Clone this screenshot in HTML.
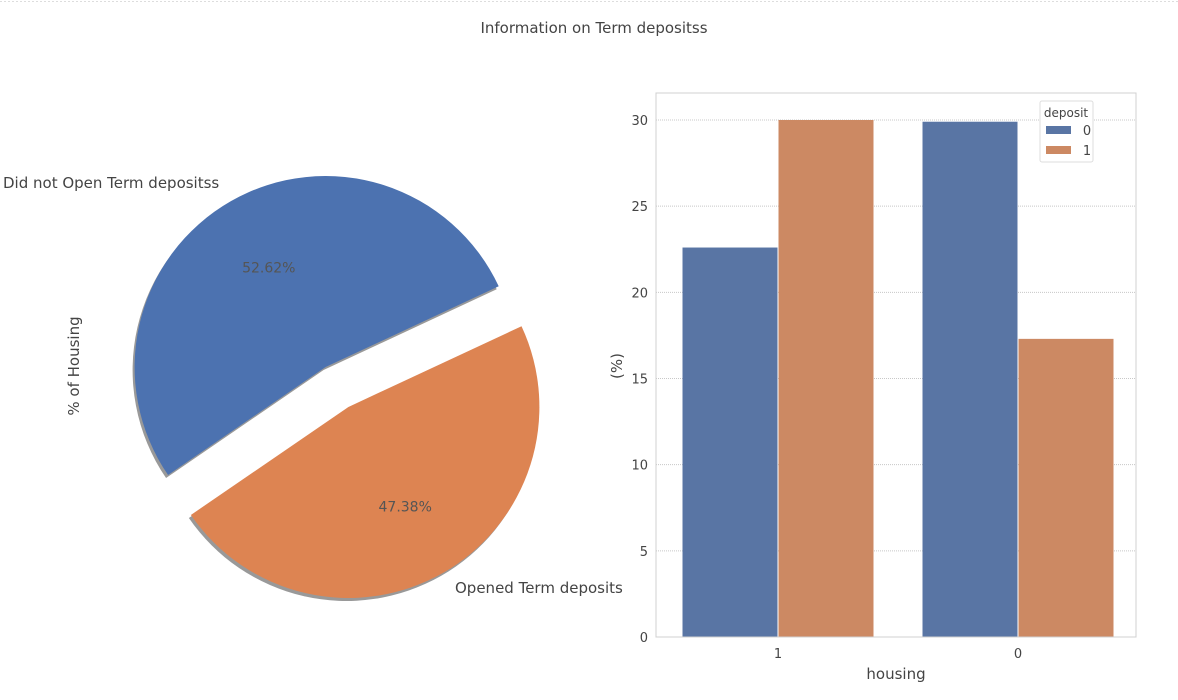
<!DOCTYPE html>
<html><head><meta charset="utf-8"><style>
body{margin:0;background:#fff;font-family:"Liberation Sans","DejaVu Sans",sans-serif}
svg text{font-family:"DejaVu Sans","Liberation Sans",sans-serif}
</style></head><body>
<svg id="c" width="1178" height="695" viewBox="0 0 1178 695" xmlns="http://www.w3.org/2000/svg">
<line x1="0" y1="1.5" x2="1178" y2="1.5" stroke="#ddd" stroke-dasharray="2,2"/>
<text x="594" y="33" text-anchor="middle" font-size="15" fill="#444">Information on Term depositss</text>
<g id="pie"></g>
<g id="bar"></g>
</svg>
<script>
const pieLabels=["Did not Open Term depositss","Opened Term deposits"];
const pieValues=[52.62,47.38];
const pieColors=["#4c72b0","#dd8452"];
const barCategories=["1","0"];
const barSeries=["0","1"];
const barValues0=[22.6,29.9];
const barValues1=[30.0,17.3];
const barColors=["#5975a4","#cc8963"];
const yTicks=[0,5,10,15,20,25,30];
const NS="http://www.w3.org/2000/svg";
function mk(t,a,p){const e=document.createElementNS(NS,t);for(const k in a)e.setAttribute(k,a[k]);p.appendChild(e);return e;}
// pie
const pie=document.getElementById('pie');
const cx=337,cy=387,r=191,ex=23,start=25;
let tot=pieValues.reduce((a,b)=>a+b,0),ang=start;
const labPos=[[3,188,'start'],[455,593,'start']];
pieValues.forEach((v,i)=>{
 const sweep=v/tot*360,a0=ang,a1=ang+sweep,mid=(a0+a1)/2*Math.PI/180;
 const ox=cx+ex*Math.cos(mid),oy=cy-ex*Math.sin(mid);
 const p0=[ox+r*Math.cos(a0*Math.PI/180),oy-r*Math.sin(a0*Math.PI/180)];
 const p1=[ox+r*Math.cos(a1*Math.PI/180),oy-r*Math.sin(a1*Math.PI/180)];
 const d=`M${ox},${oy}L${p0[0]},${p0[1]}A${r},${r} 0 ${sweep>180?1:0} 0 ${p1[0]},${p1[1]}Z`;
 const sh=mk('path',{d:d,fill:'#999',transform:'translate(-2,3)'},pie);
 
 
 const w=mk('path',{d:d,fill:pieColors[i]},pie);
 
 
 const t=mk('text',{x:ox+0.6*r*Math.cos(mid),y:oy-0.6*r*Math.sin(mid)+5,'text-anchor':'middle','font-size':14,fill:'#555'},pie);
 t.textContent=v.toFixed(2)+'%';
 
 
 const l=mk('text',{x:labPos[i][0],y:labPos[i][1],'text-anchor':labPos[i][2],'font-size':15,fill:'#444'},pie);
 l.textContent=pieLabels[i];
 
 
 ang=a1;
});
const yl=mk('text',{x:0,y:0,transform:'translate(79,366) rotate(-90)','text-anchor':'middle','font-size':15,fill:'#444'},pie);
yl.textContent='% of Housing';


// bar
const bar=document.getElementById('bar');
const L=656,R=1136,T=93,B=637,y0=637,y30=120;
const yS=v=>y0-(v/30)*(y0-y30);
yTicks.forEach(t=>{
 const g=mk('line',{x1:L,x2:R,y1:yS(t),y2:yS(t),stroke:'#c8c8c8','stroke-dasharray':'1,1'},bar);
 
 
 const tx=mk('text',{x:L-8,y:yS(t)+5,'text-anchor':'end','font-size':13,fill:'#444'},bar);
 tx.textContent=t;
 
 
});
const gw=(R-L)/barCategories.length,bw=95;
const gc=i=>L+gw*(i+0.5)+2;
[barValues0,barValues1].forEach((vals,s)=>{
 vals.forEach((v,i)=>{
  const c=gc(i);
  const x=s===0?c-bw-0.5:c+0.5;
  const b=mk('rect',{x:x,y:yS(v),width:bw,height:y0-yS(v),fill:barColors[s]},bar);
  
  
 });
});
barCategories.forEach((c,i)=>{
 const t=mk('text',{x:gc(i),y:B+21,'text-anchor':'middle','font-size':13,fill:'#444'},bar);
 t.textContent=c;
 
 
});
const fr=mk('rect',{x:L,y:T,width:R-L,height:B-T,fill:'none',stroke:'#d0d0d0'},bar);


const xt=mk('text',{x:896,y:679,'text-anchor':'middle','font-size':15,fill:'#444'},bar);
xt.textContent='housing';


const yt=mk('text',{x:0,y:0,transform:'translate(622,366) rotate(-90)','text-anchor':'middle','font-size':15,fill:'#444'},bar);
yt.textContent='(%)';


// legend
const lg=mk('g',{},bar);


mk('rect',{x:1040,y:101,width:53,height:61,fill:'#fff',stroke:'#ddd',rx:2},lg);
const lt=mk('text',{x:1066,y:117,'text-anchor':'middle','font-size':12,fill:'#444'},lg);
lt.textContent='deposit';
barSeries.forEach((s,i)=>{
 const e=mk('rect',{x:1046,y:126+i*20,width:25,height:8,fill:barColors[i]},lg);
 
 
 const t=mk('text',{x:1087,y:135+i*20,'text-anchor':'middle','font-size':13,fill:'#444'},lg);
 t.textContent=s;
 
 
});
</script>
</body></html>
